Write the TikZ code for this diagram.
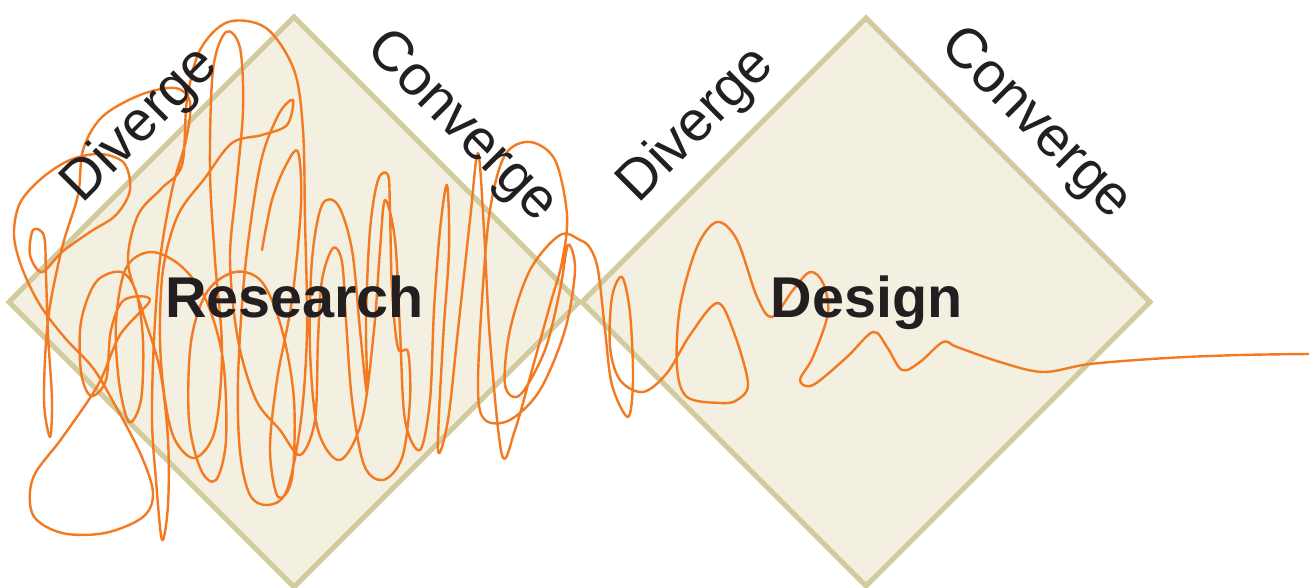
\documentclass[tikz,border=0pt]{standalone}
\usepackage{fontspec}
\setmainfont{Liberation Sans}
\definecolor{fillc}{HTML}{F3EFE1}
\definecolor{edgec}{HTML}{D2CB9E}
\definecolor{scrib}{HTML}{F37A21}
\definecolor{txt}{HTML}{231F20}
\begin{document}
\begin{tikzpicture}[x=1pt,y=-1pt,
  phase/.style={draw=edgec, fill=fillc, line width=5pt, line join=miter},
  side/.style={font=\fontsize{56.5}{60}\selectfont, text=txt, inner sep=0pt, anchor=base},
  title/.style={font=\fontsize{57.5}{60}\selectfont\bfseries, text=txt, inner sep=0pt, anchor=base},
  scribble/.style={draw=scrib, line width=2.4pt, line join=round, line cap=round}]
\useasboundingbox (0,0) rectangle (1309,588);
% diamonds
\draw[phase] (9,302) -- (294,17) -- (579,302) -- (294,587) -- cycle;
\draw[phase] (582,302) -- (866,18) -- (1150,302) -- (866,586) -- cycle;
% scribble
\draw[scribble] plot[smooth, tension=0.55] coordinates {
(262,250) (272,200) (286,165) (298,152) (301,205) (292,300) (277,380) (270,450)
(278,497) (292,478) (294,400) (282,330) (262,282) (235,272) (207,292) (191,342)
(189,420) (201,470) (216,480) (226,440) (223,360) (206,300) (181,266) (151,252)
(126,268) (116,322) (119,382) (129,422) (141,400) (143,340) (136,292) (121,272)
(96,282) (81,322) (81,372) (91,396) (106,380) (111,330) (124,300)
(150,300) (120,335) (98,385) (62,438) (33,478) (33,515) (62,533) (105,533)
(143,517) (153,493) (141,455) (115,405) (93,368) (65,338) (40,305) (22,268)
(14,235) (20,203) (42,178) (70,160) (100,154) (124,163) (130,190) (116,215)
(90,232) (62,252) (42,272) (30,255) (33,230) (44,236) (46,275) (48,335)
(52,400) (50,437) (44,400) (48,320) (62,248) (78,195) (83,150) (102,117)
(140,95) (175,88) (190,102) (186,140) (172,190) (160,260) (154,340) (152,420)
(156,480) (162,540) (168,505) (168,440) (160,370) (142,310) (128,262) (138,215)
(162,188) (182,165) (187,100) (200,50) (228,22) (266,28) (294,70) (303,130)
(305,220) (307,330) (301,420) (287,490) (268,505) (250,495) (240,452) (238,380)
(244,280) (254,200) (264,150) (280,112) (293,100) (287,125) (262,135) (232,143)
(205,178) (178,215) (163,270) (160,340) (165,400) (175,440) (195,458) (215,430)
(222,350) (215,260) (210,170) (213,70) (226,32) (240,48) (243,110) (236,190)
(230,260) (238,340) (256,400) (280,430) (300,455) (315,420) (318,340) (322,280)
(333,248) (342,262) (346,320) (352,400) (364,465) (383,480) (402,458) (410,400)
(408,352) (398,348) (392,290) (390,210) (388,175) (378,180) (370,230) (366,320)
(367,393) (360,330) (352,250) (338,205) (322,205) (312,260) (310,350) (318,430)
(340,460) (362,420) (374,330) (380,250) (385,200) (395,240) (400,330) (405,420)
(420,450) (430,400) (434,310) (440,230) (447,185) (449,250) (443,340) (438,450)
(448,420) (458,330) (470,220) (478,153) (484,230) (490,340) (502,455) (515,430)
(532,370) (550,305) (562,262) (567,215) (555,160) (530,142) (505,155) (490,210)
(482,300) (478,390) (485,420) (510,420) (540,390) (565,330) (575,270) (568,245)
(560,290) (545,350) (520,395) (505,385) (510,330) (530,270) (560,235) (580,240)
(590,248) (598,270) (605,330) (612,385) (628,417) (633,380) (630,313) (622,277)
(612,297) (610,347) (620,380) (643,392) (667,373) (690,335) (717,303) (733,330)
(748,383) (737,400) (720,403) (687,397) (677,367) (680,307) (697,247) (717,222)
(737,240) (757,297) (772,317) (793,290) (810,272) (823,283) (828,313) (813,357)
(800,380) (813,385) (847,357) (873,332) (887,347) (902,370) (920,362) (943,342)
(957,347) (1000,362) (1043,372) (1090,364) (1167,358) (1240,355) (1309,354)};
% labels
\node[side, rotate=45] (div1) at (151,136) {Diverge};
\node[side, rotate=-45] (con1) at (451,137) {Converge};
\node[side, rotate=45] (div2) at (707,136) {Diverge};
\node[side, rotate=-45] (con2) at (1025,134) {Converge};
\node[title] (res) at (294.5,317) {Research};
\node[title] (des) at (866.5,317) {Design};
\end{tikzpicture}
\end{document}
